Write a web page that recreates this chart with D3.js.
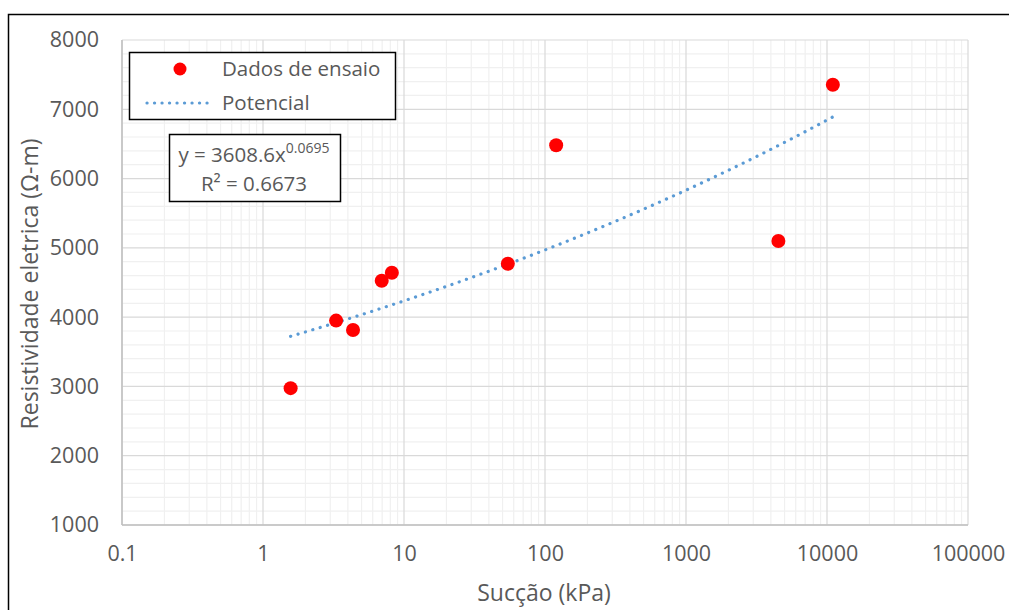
<!DOCTYPE html>
<html>
<head>
<meta charset="utf-8">
<script src="https://cdn.jsdelivr.net/npm/d3@7"></script>
<style>
  html, body { margin: 0; padding: 0; background: #fff; }
  svg text { font-family: "Open Sans", "Noto Sans", sans-serif; fill: #595959; }
</style>
</head>
<body>
<svg id="chart" width="1009" height="610"></svg>
<script>
// Measured suction (kPa) and electrical resistivity (ohm-m)
const suction = [1.57, 3.3, 4.35, 6.95, 8.2, 54.5, 120, 4520, 11000];
const resistivity = [2975, 3950, 3815, 4525, 4640, 4770, 6480, 5100, 7355];

// Power-law fit reported for the data
const fitCoef = 3608.6;
const fitExp = 0.0695;
const fitR2 = "0.6673";

const xTickValues = [0.1, 1, 10, 100, 1000, 10000, 100000];
const xTickLabels = ["0.1", "1", "10", "100", "1000", "10000", "100000"];
const yTickValues = [1000, 2000, 3000, 4000, 5000, 6000, 7000, 8000];

const legendLabels = ["Dados de ensaio", "Potencial"];
const xTitle = "Sucção (kPa)";
const yTitle = "Resistividade eletrica (Ω-m)";

const svg = d3.select("#chart");
const plot = { left: 122, right: 968, top: 40, bottom: 525 };

const x = d3.scaleLog().domain([0.1, 100000]).range([plot.left, plot.right]);
const y = d3.scaleLinear().domain([1000, 8000]).range([plot.bottom, plot.top]);

// Outer chart frame
svg.append("rect")
  .attr("x", 8.5).attr("y", 14.5).attr("width", 1020).attr("height", 620)
  .attr("fill", "none").attr("stroke", "#000").attr("stroke-width", 1.5);

// Minor grid
const xMinor = [];
for (let e = -1; e < 5; e++) for (let m = 2; m <= 9; m++) xMinor.push(m * Math.pow(10, e));
const yMinor = d3.range(1000, 8001, 200).filter(v => v % 1000 !== 0);

const grid = svg.append("g");
grid.selectAll(".xminor").data(xMinor).join("line")
  .attr("x1", d => x(d)).attr("x2", d => x(d))
  .attr("y1", plot.top).attr("y2", plot.bottom)
  .attr("stroke", "#F0F0F0").attr("stroke-width", 1.2);
grid.selectAll(".yminor").data(yMinor).join("line")
  .attr("x1", plot.left).attr("x2", plot.right)
  .attr("y1", d => y(d)).attr("y2", d => y(d))
  .attr("stroke", "#F0F0F0").attr("stroke-width", 1.2);

// Major grid
grid.selectAll(".xmajor").data(xTickValues).join("line")
  .attr("x1", d => x(d)).attr("x2", d => x(d))
  .attr("y1", plot.top).attr("y2", plot.bottom)
  .attr("stroke", "#D9D9D9").attr("stroke-width", 1.2);
grid.selectAll(".ymajor").data(yTickValues).join("line")
  .attr("x1", plot.left).attr("x2", plot.right)
  .attr("y1", d => y(d)).attr("y2", d => y(d))
  .attr("stroke", "#D9D9D9").attr("stroke-width", 1.2);

// Axis lines
svg.append("line").attr("x1", plot.left).attr("x2", plot.left)
  .attr("y1", plot.top).attr("y2", plot.bottom)
  .attr("stroke", "#BFBFBF").attr("stroke-width", 1.5);
svg.append("line").attr("x1", plot.left).attr("x2", plot.right)
  .attr("y1", plot.bottom).attr("y2", plot.bottom)
  .attr("stroke", "#BFBFBF").attr("stroke-width", 1.5);

// Axes (labels only)
const xAxis = d3.axisBottom(x).tickValues(xTickValues)
  .tickFormat((d, i) => xTickLabels[i]).tickSize(0).tickPadding(21);
const gx = svg.append("g").attr("transform", `translate(0,${plot.bottom})`).call(xAxis);
gx.select(".domain").remove();
gx.selectAll("text").attr("font-size", 21.5).attr("fill", "#595959")
  .style("font-family", "'Open Sans', sans-serif");

const yAxis = d3.axisLeft(y).tickValues(yTickValues).tickFormat(d3.format("d"))
  .tickSize(0).tickPadding(23);
const gy = svg.append("g").attr("transform", `translate(${plot.left},0)`).call(yAxis);
gy.select(".domain").remove();
gy.selectAll("text").attr("font-size", 21.5).attr("fill", "#595959")
  .style("font-family", "'Open Sans', sans-serif");

// Axis titles
svg.append("text").attr("x", 544).attr("y", 601)
  .attr("text-anchor", "middle").attr("font-size", 23).text(xTitle);
svg.append("text")
  .attr("transform", "translate(38,284) rotate(-90)")
  .attr("text-anchor", "middle").attr("font-size", 23).text(yTitle);

// Trendline
const fit = v => fitCoef * Math.pow(v, fitExp);
const xs = d3.range(0, 201).map(i => {
  const lo = Math.log10(d3.min(suction)), hi = Math.log10(d3.max(suction));
  return Math.pow(10, lo + (hi - lo) * i / 200);
});
svg.append("path")
  .datum(xs)
  .attr("d", d3.line().x(d => x(d)).y(d => y(fit(d))))
  .attr("fill", "none").attr("stroke", "#5B9BD5").attr("stroke-width", 3.2)
  .attr("stroke-linecap", "round").attr("stroke-dasharray", "0.1 7.6");

// Data points
svg.append("g").selectAll("circle").data(suction).join("circle")
  .attr("cx", d => x(d)).attr("cy", (d, i) => y(resistivity[i]))
  .attr("r", 7).attr("fill", "#FF0000");

// Legend
const lg = svg.append("g");
lg.append("rect").attr("x", 129.5).attr("y", 52.5).attr("width", 266).attr("height", 67)
  .attr("fill", "#fff").attr("stroke", "#000").attr("stroke-width", 1.5);
lg.append("circle").attr("cx", 180).attr("cy", 69).attr("r", 6.5).attr("fill", "#FF0000");
lg.append("text").attr("x", 222).attr("y", 76).attr("font-size", 20.5).text(legendLabels[0]);
lg.append("line").attr("x1", 147).attr("x2", 214).attr("y1", 103).attr("y2", 103)
  .attr("stroke", "#5B9BD5").attr("stroke-width", 3.2)
  .attr("stroke-linecap", "round").attr("stroke-dasharray", "0.1 7.4");
lg.append("text").attr("x", 222).attr("y", 110).attr("font-size", 20.5).text(legendLabels[1]);

// Equation box
const eq = svg.append("g");
eq.append("rect").attr("x", 169.5).attr("y", 134.5).attr("width", 171).attr("height", 67)
  .attr("fill", "#fff").attr("stroke", "#000").attr("stroke-width", 1.5);
const t1 = eq.append("text").attr("x", 254).attr("y", 162)
  .attr("text-anchor", "middle").attr("font-size", 20.5);
t1.append("tspan").text(`y = ${fitCoef}x`);
t1.append("tspan").attr("font-size", 14).attr("dy", -9).text(fitExp.toFixed(4));
eq.append("text").attr("x", 254).attr("y", 191)
  .attr("text-anchor", "middle").attr("font-size", 20.5).text(`R² = ${fitR2}`);
</script>
</body>
</html>
